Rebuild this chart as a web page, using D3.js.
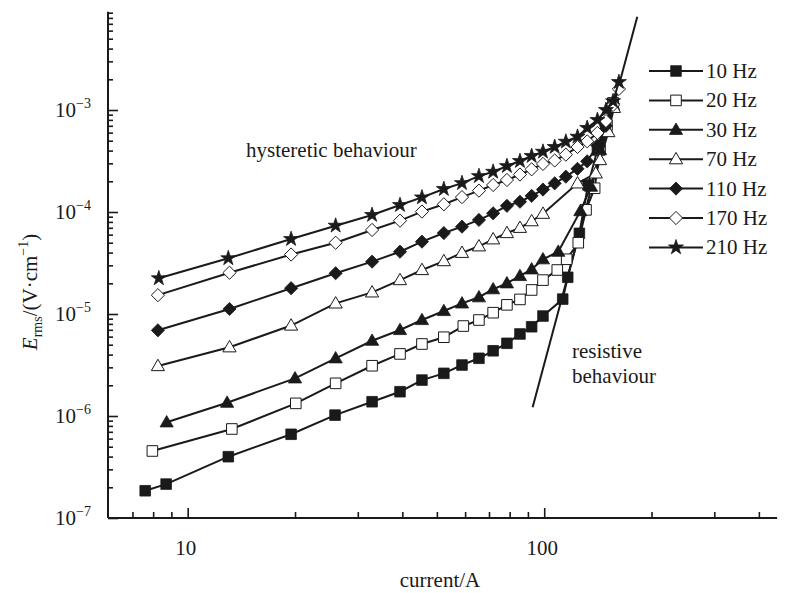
<!DOCTYPE html>
<html><head><meta charset="utf-8">
<script src="https://cdn.jsdelivr.net/npm/d3@7"></script>
<style>
html,body{margin:0;padding:0;background:#fff;}
svg text{font-family:"Liberation Serif","Times New Roman",serif;fill:#1a1a1a;}
</style></head>
<body><svg id="c" width="792" height="593"></svg>
<script>
// ---- data ----
const seriesNames = ["10 Hz","20 Hz","30 Hz","70 Hz","110 Hz","170 Hz","210 Hz"];
const cur10 = [7.6, 8.7, 13.0, 19.5, 25.9, 32.9, 39.4, 45.4, 52.3, 58.8, 65.6, 71.9, 78.6, 85.5, 92.2, 99.2, 112.7, 116.4, 125.5, 132.7, 141, 149, 156];
const e10   = [1.85e-7, 2.15e-7, 3.99e-7, 6.62e-7, 1.02e-6, 1.38e-6, 1.73e-6, 2.25e-6, 2.62e-6, 3.16e-6, 3.68e-6, 4.36e-6, 5.16e-6, 6.37e-6, 7.5e-6, 9.55e-6, 1.40e-5, 2.29e-5, 6.18e-5, 1.84e-4, 4.06e-4, 6.8e-4, 1.17e-3];
const cur20 = [7.96, 13.3, 20.1, 26.0, 32.9, 39.4, 45.4, 52.3, 59.3, 65.6, 71.9, 78.6, 85.5, 92.2, 99.2, 108.8, 115.6, 124.6, 131, 138.5, 143.4, 150, 156];
const e20   = [4.54e-7, 7.46e-7, 1.33e-6, 2.09e-6, 3.11e-6, 4.06e-6, 5.08e-6, 5.92e-6, 7.62e-6, 8.73e-6, 1.03e-5, 1.23e-5, 1.39e-5, 1.72e-5, 2.15e-5, 2.70e-5, 3.44e-5, 5.0e-5, 1.05e-4, 1.71e-4, 4.06e-4, 7.1e-4, 1.17e-3];
const cur30 = [8.73, 12.9, 20.0, 26.0, 32.9, 39.4, 45.4, 52.3, 58.8, 65.6, 71.9, 78.6, 85.5, 92.2, 99.2, 109.5, 126.3, 135.3, 143.4, 149, 156];
const e30   = [8.67e-7, 1.35e-6, 2.34e-6, 3.68e-6, 5.47e-6, 6.97e-6, 8.73e-6, 1.07e-5, 1.27e-5, 1.46e-5, 1.75e-5, 2.0e-5, 2.36e-5, 2.74e-5, 3.44e-5, 4.08e-5, 1.02e-4, 1.77e-4, 4.06e-4, 6.67e-4, 1.12e-3];
const cur70 = [8.25, 13.1, 19.5, 26.0, 32.9, 39.4, 45.4, 52.3, 58.8, 65.6, 71.9, 78.6, 85.5, 92.2, 99.2, 124, 139.5, 143.4, 151.3, 156.9];
const e70   = [3.09e-6, 4.72e-6, 7.71e-6, 1.27e-5, 1.63e-5, 2.15e-5, 2.70e-5, 3.30e-5, 3.98e-5, 4.61e-5, 5.40e-5, 6.22e-5, 7.0e-5, 8.13e-5, 9.62e-5, 1.91e-4, 2.39e-4, 3.23e-4, 6.08e-4, 1.05e-3];
const cur110 = [8.25, 13.1, 19.5, 26.0, 32.9, 39.4, 45.4, 52.3, 58.8, 65.6, 71.9, 78.6, 85.5, 92.2, 99.2, 107, 115, 124, 132, 141, 149, 156];
const e110   = [6.92e-6, 1.12e-5, 1.79e-5, 2.51e-5, 3.26e-5, 4.08e-5, 5.12e-5, 6.22e-5, 7.18e-5, 8.36e-5, 9.71e-5, 1.15e-4, 1.26e-4, 1.44e-4, 1.66e-4, 1.91e-4, 2.22e-4, 2.65e-4, 3.14e-4, 4.49e-4, 7.0e-4, 1.15e-3];
const cur170 = [8.25, 13.1, 19.5, 26.0, 32.9, 39.4, 45.4, 52.3, 58.8, 65.6, 71.9, 78.6, 85.5, 92.2, 99.2, 107, 115, 124, 132, 141, 149, 156, 162];
const e170   = [1.53e-5, 2.54e-5, 3.83e-5, 5.0e-5, 6.67e-5, 8.22e-5, 1.01e-4, 1.19e-4, 1.40e-4, 1.62e-4, 1.84e-4, 2.06e-4, 2.33e-4, 2.62e-4, 2.96e-4, 3.20e-4, 3.65e-4, 4.34e-4, 4.93e-4, 5.96e-4, 7.8e-4, 1.12e-3, 1.61e-3];
const cur210 = [8.3, 13.0, 19.5, 26.0, 32.9, 39.4, 45.4, 52.3, 58.8, 65.6, 71.9, 78.6, 85.5, 92.2, 99.2, 107, 115, 124, 132, 141, 149, 156, 162];
const e210   = [2.24e-5, 3.52e-5, 5.43e-5, 7.34e-5, 9.35e-5, 1.17e-4, 1.39e-4, 1.68e-4, 1.92e-4, 2.25e-4, 2.48e-4, 2.82e-4, 3.16e-4, 3.54e-4, 3.90e-4, 4.34e-4, 4.89e-4, 5.47e-4, 6.67e-4, 7.98e-4, 1.0e-3, 1.22e-3, 1.88e-3];
const resCurrent = [92.8, 182.4];
const resE = [1.22e-6, 8.2e-3];
const xMajorTicks = [10, 100];
const xMinorTicks = [7, 8, 9, 20, 30, 40, 50, 60, 70, 80, 90, 200, 300, 400];
const yMajorTicks = [1e-7, 1e-6, 1e-5, 1e-4, 1e-3];
const yExponents = ["−7", "−6", "−5", "−4", "−3"];

const currents = [cur10, cur20, cur30, cur70, cur110, cur170, cur210];
const fields = [e10, e20, e30, e70, e110, e170, e210];
const markerTypes = ["square","square","triangle","triangle","diamond","diamond","star"];
const markerFilled = [true, false, true, false, true, false, true];

// ---- scales ----
const svg = d3.select("#c");
const x = d3.scaleLog().domain([6, 450]).range([108.6, 777.1]);
const y = d3.scaleLog().domain([1e-7, 9.2e-3]).range([518, 11.7]);
const ink = "#1a1a1a";
const FS = 21, FSS = 14;

const yMinor = [];
for (let d = -7; d <= -3; d++) for (let k = 2; k <= 9; k++) yMinor.push(k * Math.pow(10, d));

// ---- axes ----
const axisX = 108;
const axisY = 518;
const gx = svg.append("g").attr("transform", `translate(0,${axisY})`);
gx.call(d3.axisBottom(x).tickValues(xMajorTicks).tickSize(-10).tickFormat(""));
gx.append("g").call(d3.axisBottom(x).tickValues(xMinorTicks).tickSize(-6).tickFormat(""));
gx.selectAll("path.domain").remove();
gx.selectAll("line").attr("stroke", ink).attr("stroke-width", 1.6);
svg.append("line").attr("x1", axisX).attr("x2", x(450)).attr("y1", axisY).attr("y2", axisY)
  .attr("stroke", ink).attr("stroke-width", 2);

const gy = svg.append("g").attr("transform", `translate(${axisX},0)`);
gy.call(d3.axisLeft(y).tickValues(yMajorTicks).tickSize(-10).tickFormat(""));
gy.append("g").call(d3.axisLeft(y).tickValues(yMinor).tickSize(-5).tickFormat(""));
gy.selectAll("path.domain").remove();
gy.selectAll("line").attr("stroke", ink).attr("stroke-width", 1.6);
svg.append("line").attr("x1", axisX).attr("x2", axisX).attr("y1", axisY).attr("y2", y(9.2e-3))
  .attr("stroke", ink).attr("stroke-width", 2);

// tick labels
svg.selectAll("text.xl").data(xMajorTicks).enter().append("text")
  .attr("x", d => x(d) - 2).attr("y", 555).attr("text-anchor", "middle")
  .attr("font-size", FS).text(d => String(d));

yMajorTicks.forEach((v, i) => {
  const t = svg.append("text").attr("x", 91).attr("y", y(v) + 7).attr("text-anchor", "end").attr("font-size", FS);
  t.append("tspan").text("10");
  t.append("tspan").attr("dy", -9).attr("font-size", FSS).text(yExponents[i]);
});

// axis titles
svg.append("text").attr("x", 440).attr("y", 587).attr("text-anchor", "middle").attr("font-size", FS).text("current/A");
const yt = svg.append("text").attr("transform", "translate(37,292) rotate(-90)").attr("text-anchor", "middle").attr("font-size", FS);
yt.append("tspan").attr("font-style", "italic").text("E");
yt.append("tspan").attr("font-size", FSS).attr("dy", 5).text("rms");
yt.append("tspan").attr("dy", -5).text("/(V·cm");
yt.append("tspan").attr("font-size", FSS).attr("dy", -9).text("−1");
yt.append("tspan").attr("dy", 9).text(")");

// ---- marker shapes ----
function markerPath(type) {
  if (type === "square") return "M-5.3,-5.3H5.3V5.3H-5.3Z";
  if (type === "triangle") return "M0,-6.8L6.6,4.6L-6.6,4.6Z";
  if (type === "diamond") return "M0,-6.6L6.6,0L0,6.6L-6.6,0Z";
  return d3.symbol().type(d3.symbolStar).size(70)();
}

// resistive line
const resData = resCurrent.map((c, i) => [c, resE[i]]);
svg.append("path").datum(resData)
  .attr("d", d3.line().x(d => x(d[0])).y(d => y(d[1])))
  .attr("fill", "none").attr("stroke", ink).attr("stroke-width", 2);

// ---- series ----
const line = d3.line().x(d => x(d[0])).y(d => y(d[1]));
seriesNames.forEach((name, s) => {
  const pts = currents[s].map((c, i) => [c, fields[s][i]]);
  const g = svg.append("g");
  g.append("path").datum(pts).attr("d", line).attr("fill", "none").attr("stroke", ink).attr("stroke-width", 2);
  g.selectAll("path.m").data(pts).enter().append("path").attr("class", "m")
    .attr("d", markerPath(markerTypes[s]))
    .attr("transform", d => `translate(${x(d[0])},${y(d[1])})`)
    .attr("fill", markerFilled[s] ? ink : "#fff")
    .attr("stroke", ink).attr("stroke-width", markerFilled[s] ? 0.8 : 1);
});

// ---- legend ----
const lg = svg.append("g");
seriesNames.forEach((name, s) => {
  const cy = 71 + s * 29.4;
  lg.append("line").attr("x1", 649).attr("x2", 703).attr("y1", cy).attr("y2", cy).attr("stroke", ink).attr("stroke-width", 2);
  lg.append("path").attr("d", markerPath(markerTypes[s])).attr("transform", `translate(676,${cy})`)
    .attr("fill", markerFilled[s] ? ink : "#fff").attr("stroke", ink).attr("stroke-width", markerFilled[s] ? 0.8 : 1);
  lg.append("text").attr("x", 706).attr("y", cy + 7).attr("font-size", FS).text(name);
});

// ---- annotations ----
svg.append("text").attr("x", 246).attr("y", 157).attr("font-size", FS).text("hysteretic behaviour");
svg.append("text").attr("x", 572).attr("y", 358).attr("font-size", FS).text("resistive");
svg.append("text").attr("x", 572).attr("y", 383).attr("font-size", FS).text("behaviour");
</script></body></html>
